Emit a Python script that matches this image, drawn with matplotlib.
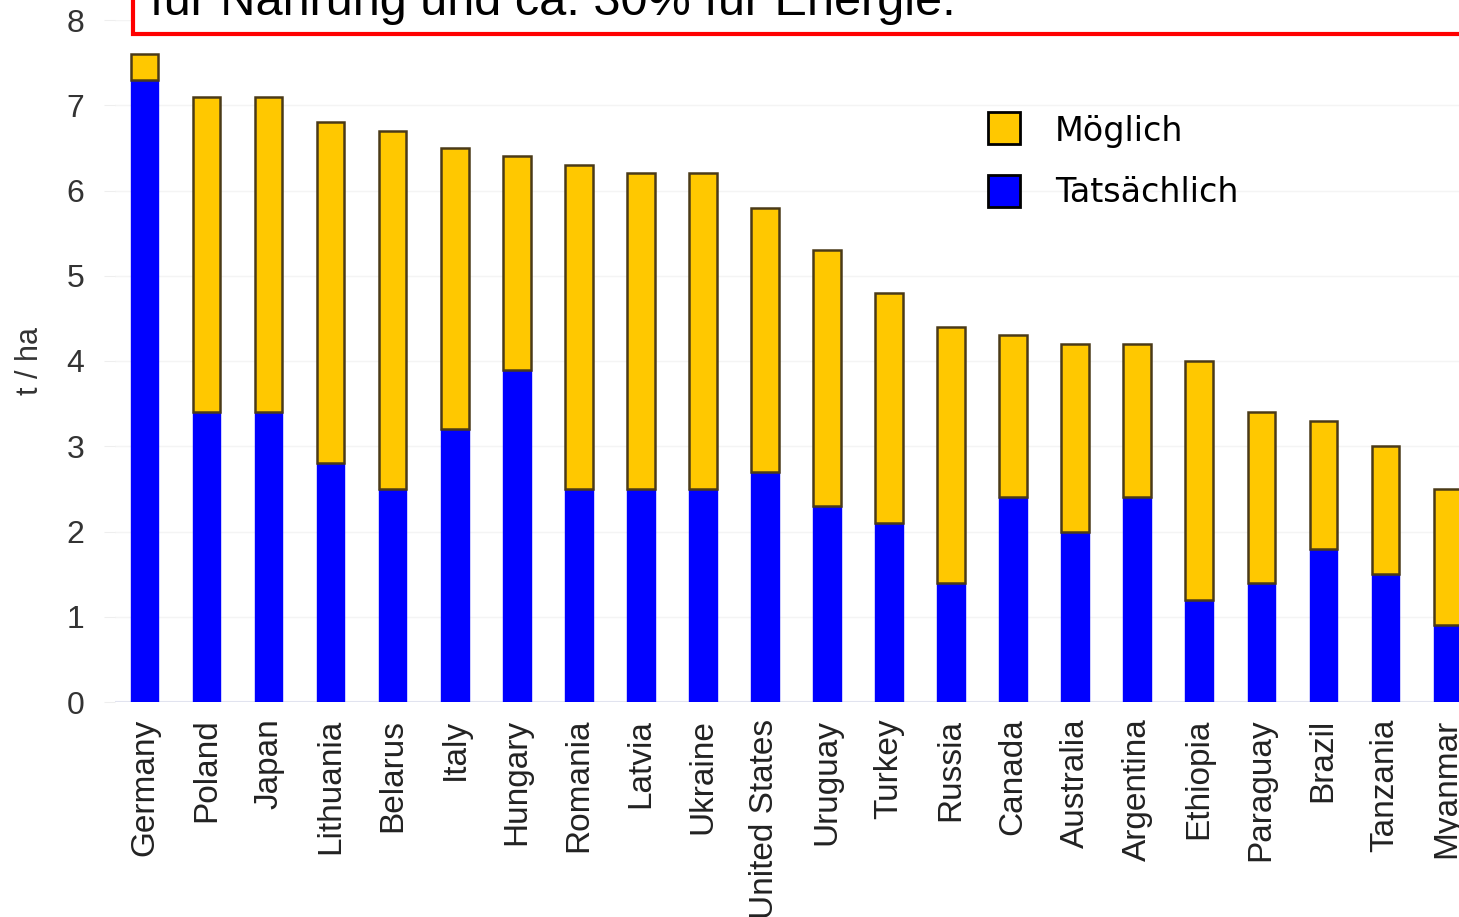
import numpy as np
from matplotlib import pyplot as plt
from matplotlib.patches import Rectangle

countries = ["Germany", "Poland", "Japan", "Lithuania", "Belarus", "Italy",
             "Hungary", "Romania", "Latvia", "Ukraine", "United States",
             "Uruguay", "Turkey", "Russia", "Canada", "Australia", "Argentina",
             "Ethiopia", "Paraguay", "Brazil", "Tanzania", "Myanmar"]
tatsaechlich = [7.3, 3.4, 3.4, 2.8, 2.5, 3.2, 3.9, 2.5, 2.5, 2.5, 2.7,
                2.3, 2.1, 1.4, 2.4, 2.0, 2.4, 1.2, 1.4, 1.8, 1.5, 0.9]
moeglich = [7.6, 7.1, 7.1, 6.8, 6.7, 6.5, 6.4, 6.3, 6.2, 6.2, 5.8,
            5.3, 4.8, 4.4, 4.3, 4.2, 4.2, 4.0, 3.4, 3.3, 3.0, 2.5]
yticks = [0, 1, 2, 3, 4, 5, 6, 7, 8]

yellow = "#ffc800"
blue = "#0000ff"
edge = "#4a3a18"


def main():
    fig = plt.figure(figsize=(14.59, 9.17), dpi=100)
    ax = fig.add_axes([115 / 1459, 1 - 702 / 917, 1 - 115 / 1459, (702 - 20) / 917])

    x = np.arange(len(countries))
    rest = np.array(moeglich) - np.array(tatsaechlich)
    ax.bar(x, tatsaechlich, width=0.44, color=blue, edgecolor=blue, linewidth=1, zorder=3)
    ax.bar(x, rest, bottom=tatsaechlich, width=0.44, color=yellow,
           edgecolor=edge, linewidth=1.8, zorder=3)

    ax.set_xlim(-0.48, len(countries) - 1 + 0.19)
    ax.set_ylim(0, 8)
    ax.set_yticks(yticks)
    ax.set_yticklabels([str(t) for t in yticks], fontsize=23, color="#333333",
                       family="Liberation Sans")
    ax.set_xticks(x)
    ax.set_xticklabels(countries, rotation=90, fontsize=24, color="#222222",
                       family="Liberation Sans")
    ax.tick_params(axis="y", length=8, color="#eeeeee", pad=14)
    ax.tick_params(axis="x", length=0, pad=12)
    for s in ax.spines.values():
        s.set_visible(False)
    ax.axhline(0, color="#dde0ee", lw=1.5, zorder=1)
    ax.grid(axis="y", color="#f4f4f4", lw=1, zorder=0)
    ax.set_ylabel("t / ha", fontsize=22, color="#333333", family="Liberation Sans")
    ax.yaxis.set_label_coords(-0.052, 0.5)

    # legend drawn as squares + text in figure coords
    fig.patches.append(Rectangle((988 / 1459, 1 - 144 / 917), 32 / 1459, 32 / 917,
                                 transform=fig.transFigure, facecolor=yellow,
                                 edgecolor="black", lw=2))
    fig.patches.append(Rectangle((988 / 1459, 1 - 207 / 917), 32 / 1459, 32 / 917,
                                 transform=fig.transFigure, facecolor=blue,
                                 edgecolor="black", lw=2))
    fig.text(1055 / 1459, 1 - 132 / 917, "Möglich", fontsize=24, va="center",
             family="DejaVu Sans")
    fig.text(1055 / 1459, 1 - 192 / 917, "Tatsächlich", fontsize=24, va="center",
             family="DejaVu Sans")

    # red text box cut at the top
    fig.patches.append(Rectangle((133 / 1459, 1 - 34 / 917), 1400 / 1459, 100 / 917,
                                 transform=fig.transFigure, facecolor="white",
                                 edgecolor="#ff0000", lw=3, zorder=5))
    fig.text(150 / 1459, 1 - 15 / 917, "für Nahrung und ca. 30% für Energie.",
             fontsize=35, va="baseline", ha="left", zorder=6,
             family=["Liberation Sans Narrow", "Liberation Sans"])

    plt.savefig("out.png", dpi=100)


if __name__ == "__main__":
    main()
